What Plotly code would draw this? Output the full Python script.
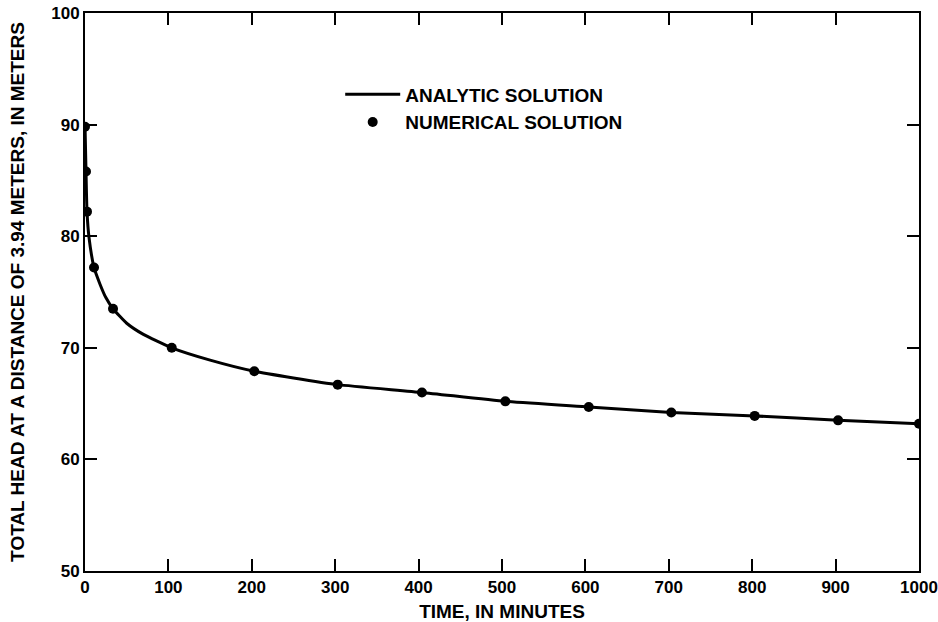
import plotly.graph_objects as go

# Numerical solution (markers)
num_time = [0, 1.2, 2.4, 10.8, 33.6, 104, 203, 303, 404, 504, 604, 703, 803, 903, 1000]
num_head = [89.8, 85.8, 82.2, 77.2, 73.5, 70.0, 67.9, 66.7, 66.0, 65.2, 64.7, 64.2, 63.9, 63.5, 63.2]

# Analytic solution (line)
ana_time = [0, 1.2, 2.4, 4.8, 10.8, 18, 25, 33.6, 50, 70, 104, 150, 203, 250, 303, 404, 504, 604, 703, 803, 903, 1000]
ana_head = [90.0, 85.8, 82.2, 79.9, 77.2, 75.7, 74.5, 73.5, 72.2, 71.2, 70.0, 68.9, 67.9, 67.3, 66.7, 66.0, 65.2, 64.7, 64.2, 63.9, 63.5, 63.2]

x_ticks = [0, 100, 200, 300, 400, 500, 600, 700, 800, 900, 1000]
y_ticks = [50, 60, 70, 80, 90, 100]

FONT = "Liberation Sans, Arial, Helvetica, sans-serif"

fig = go.Figure()
fig.add_trace(go.Scatter(
    x=ana_time, y=ana_head, mode="lines", name="ANALYTIC SOLUTION",
    line=dict(color="black", width=3, shape="spline", smoothing=0.5),
))
fig.add_trace(go.Scatter(
    x=num_time, y=num_head, mode="markers", name="NUMERICAL SOLUTION",
    marker=dict(color="black", size=10),
))

axis_common = dict(
    showgrid=False, zeroline=False, showline=True, linecolor="black", linewidth=2,
    mirror="ticks", ticks="inside", tickcolor="black", tickwidth=2,
    tickfont=dict(family=FONT, size=17, color="black", weight="bold"),
    automargin=False,
)

fig.update_xaxes(
    range=[0, 1000], tickvals=x_ticks, ticklen=12,
    title=dict(text="TIME, IN MINUTES",
               font=dict(family=FONT, size=19, color="black", weight="bold"), standoff=8),
    **axis_common,
)
fig.update_yaxes(
    range=[50, 100], tickvals=y_ticks, ticklen=12,
    title=dict(text="TOTAL HEAD AT A DISTANCE OF 3.94 METERS, IN METERS",
               font=dict(family=FONT, size=19, color="black", weight="bold"), standoff=22),
    **axis_common,
)

fig.update_layout(
    width=938, height=622,
    margin=dict(l=85, r=19, t=13, b=51),
    plot_bgcolor="white", paper_bgcolor="white",
    showlegend=True,
    legend=dict(
        x=0.306, y=0.888, xanchor="left", yanchor="top",
        font=dict(family=FONT, size=19, color="black", weight="bold"),
        bgcolor="rgba(0,0,0,0)", tracegroupgap=0, itemwidth=55,
    ),
)

fig.write_html("out.html", config={"displayModeBar": False},
               post_script="document.body.style.margin='0';")
